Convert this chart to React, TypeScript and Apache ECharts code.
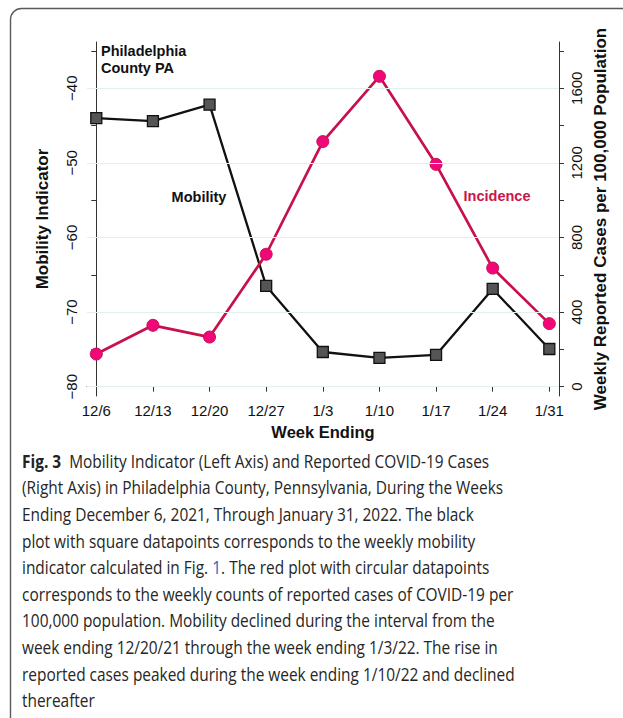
import React, { useEffect, useRef } from "react";
import * as echarts from "echarts";

const categories = ["12/6", "12/13", "12/20", "12/27", "1/3", "1/10", "1/17", "1/24", "1/31"];
const mobility = [-44.0, -44.4, -42.2, -66.5, -75.35, -76.15, -75.75, -66.9, -74.95];
const incidence = [175, 329, 266, 710, 1314, 1664, 1192, 636, 338];
const leftTicks = [-80, -70, -60, -50, -40];
const leftMinor = [-75, -65, -55, -45, -35];
const rightTicks = [0, 400, 800, 1200, 1600];
const rightMinor = [200, 600, 1000, 1400, 1800];
const captionLines = [
  "{b|Fig. 3}  Mobility Indicator (Left Axis) and Reported COVID-19 Cases",
  "(Right Axis) in Philadelphia County, Pennsylvania, During the Weeks",
  "Ending December 6, 2021, Through January 31, 2022. The black",
  "plot with square datapoints corresponds to the weekly mobility",
  "indicator calculated in Fig. {l|1}. The red plot with circular datapoints",
  "corresponds to the weekly counts of reported cases of COVID-19 per",
  "100,000 population. Mobility declined during the interval from the",
  "week ending 12/20/21 through the week ending 1/3/22. The rise in",
  "reported cases peaked during the week ending 1/10/22 and declined",
  "thereafter",
];

const CAP_FONT = "Open Sans";
const CAP_SIZE = 17.5;

function measure(text: string): number {
  const c = document.createElement("canvas");
  const ctx = c.getContext("2d");
  if (!ctx) return 560;
  ctx.font = `${CAP_SIZE}px "${CAP_FONT}"`;
  return ctx.measureText(text.replace(/\{[bl]\|([^}]*)\}/g, "$1")).width;
}

export default function App() {
  const ref = useRef<HTMLDivElement>(null);
  useEffect(() => {
    document.body.style.margin = "0";
    if (!ref.current) return;
    const chart = echarts.init(ref.current, null, { renderer: "svg" });
    const minus = (v: number) => String(v).replace("-", "\u2212");
    const xs = (arr: number[]) => arr.map((v, i) => [i, v]);
    const targetW = 493;
    const scaleX = targetW / measure(captionLines[8]);

    const option: any = {
      animation: false,
      backgroundColor: "#fff",
      grid: { left: 87, right: 64, top: 42, bottom: 322 },
      xAxis: {
        type: "value",
        min: -0.164,
        max: 8.171,
        splitLine: { show: false },
        axisLine: { show: true, lineStyle: { color: "#333", width: 1 } },
        axisTick: { show: true, customValues: categories.map((_, i) => i), length: 5, lineStyle: { color: "#333" } },
        axisLabel: {
          customValues: categories.map((_, i) => i),
          formatter: (v: number) => categories[Math.round(v)] ?? "",
          fontFamily: "Liberation Sans",
          fontSize: 15,
          color: "#111",
          margin: 7,
        },
        name: "Week Ending",
        nameLocation: "middle",
        nameGap: 27,
        nameTextStyle: { fontFamily: "Liberation Sans", fontWeight: "bold", fontSize: 16.5, color: "#111" },
      },
      yAxis: [
        {
          type: "value",
          position: "left",
          min: -81.25,
          max: -33.8,
          splitLine: { show: false },
          axisLine: { show: true, lineStyle: { color: "#333", width: 1 } },
          axisTick: { show: true, customValues: [...leftTicks, ...leftMinor], length: 5, lineStyle: { color: "#333" } },
          axisLabel: {
            customValues: leftTicks,
            formatter: (v: number) => minus(v),
            rotate: 90,
            fontFamily: "Liberation Sans",
            fontSize: 15,
            color: "#111",
            margin: 8,
          },
          name: "Mobility Indicator",
          nameLocation: "middle",
          nameRotate: 90,
          nameGap: 36,
          nameTextStyle: { fontFamily: "Liberation Sans", fontWeight: "bold", fontSize: 17, color: "#111" },
        },
        {
          type: "value",
          position: "right",
          min: -50,
          max: 1848,
          splitLine: { show: false },
          axisLine: { show: true, lineStyle: { color: "#333", width: 1 } },
          axisTick: { show: true, customValues: [...rightTicks, ...rightMinor], length: 5, lineStyle: { color: "#333" } },
          axisLabel: {
            customValues: rightTicks,
            formatter: (v: number) => String(v),
            rotate: 90,
            fontFamily: "Liberation Sans",
            fontSize: 15,
            color: "#111",
            margin: 10,
          },
          name: "Weekly Reported Cases per 100,000 Population",
          nameLocation: "middle",
          nameRotate: 90,
          nameGap: 33,
          nameTextStyle: { fontFamily: "Liberation Sans", fontWeight: "bold", fontSize: 17, color: "#111" },
        },
      ],
      series: [
        {
          type: "line",
          name: "grid",
          yAxisIndex: 0,
          data: xs(mobility),
          symbol: "none",
          lineStyle: { opacity: 0 },
          silent: true,
          z: 1,
          markLine: {
            silent: true,
            symbol: "none",
            label: { show: false },
            lineStyle: { color: "#e3eeef", type: "solid", width: 1.2 },
            data: leftTicks.map((v) => ({ yAxis: v })),
          },
        },
        {
          type: "line",
          name: "Mobility",
          yAxisIndex: 0,
          data: xs(mobility),
          symbol: "rect",
          symbolSize: 11,
          itemStyle: { color: "#555555", borderColor: "#111", borderWidth: 1.3 },
          lineStyle: { color: "#111", width: 2.3 },
          z: 3,
        },
        {
          type: "line",
          name: "Incidence",
          yAxisIndex: 1,
          data: xs(incidence),
          symbol: "circle",
          symbolSize: 12,
          itemStyle: { color: "#f0077a", borderColor: "#c8104a", borderWidth: 1 },
          lineStyle: { color: "#c8104a", width: 2.7 },
          z: 4,
        },
      ],
      graphic: [
        {
          type: "rect",
          shape: { x: 10.5, y: 8.5, width: 720, height: 800, r: 11 },
          style: { fill: "none", stroke: "#5a5a5a", lineWidth: 1.4 },
          silent: true,
          z: 0,
        },
        {
          type: "text",
          left: 101,
          top: 42,
          style: {
            text: "Philadelphia\nCounty PA",
            font: 'bold 14.5px "Liberation Sans"',
            fill: "#111",
            lineHeight: 17,
          },
        },
        {
          type: "text",
          x: 199,
          y: 197,
          style: {
            text: "Mobility",
            font: 'bold 14.5px "Liberation Sans"',
            fill: "#111",
            align: "center",
            verticalAlign: "middle",
          },
        },
        {
          type: "text",
          x: 497,
          y: 196,
          style: {
            text: "Incidence",
            font: 'bold 14.5px "Liberation Sans"',
            fill: "#c8164a",
            align: "center",
            verticalAlign: "middle",
          },
        },
        {
          type: "group",
          x: 22,
          y: 0,
          scaleX,
          children: captionLines.map((t, i) => ({
            type: "text",
            x: 0,
            y: 461 + 26.6 * i,
            style: {
              text: t,
              fontFamily: CAP_FONT,
              fontSize: CAP_SIZE,
              fill: "#262626",
              verticalAlign: "middle",
              rich: {
                b: { fontFamily: CAP_FONT, fontSize: CAP_SIZE, fontWeight: "bold", fill: "#222" },
                l: { fontFamily: CAP_FONT, fontSize: CAP_SIZE, fill: "#2f5fc4" },
              },
            },
          })),
        },
      ],
    };
    chart.setOption(option);
    return () => chart.dispose();
  }, []);
  return <div ref={ref} style={{ width: 623, height: 718 }} />;
}
